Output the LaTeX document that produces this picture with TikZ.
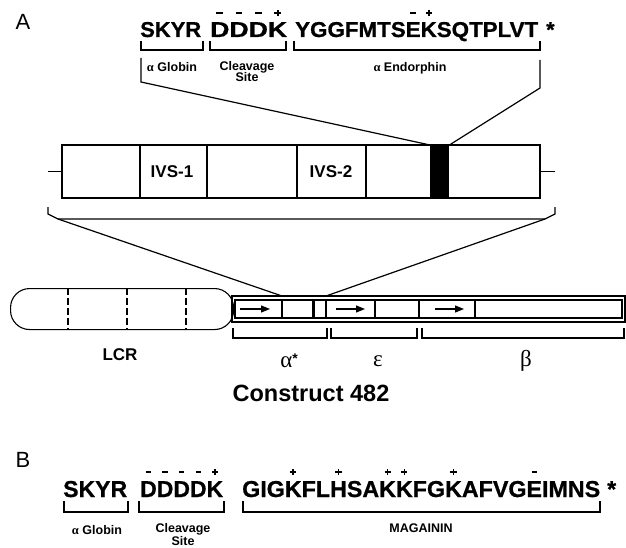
\documentclass[tikz,border=0pt]{standalone}
\usepackage{fontspec}
\setmainfont{Liberation Sans}
\newfontfamily\grk{Liberation Serif}
\newfontfamily\seqfont[FakeBold=0.8]{Liberation Sans Bold}
\usepackage{graphicx}
\usetikzlibrary{arrows.meta}
\newcommand\mi{\rule[2.25pt]{5.5pt}{1.6pt}}
\newcommand\pl{\hbox{\rule[2.2pt]{6pt}{1.6pt}\kern-3.8pt\rule{1.6pt}{6pt}\kern2.2pt}}
\newcommand\ch[2]{\vbox{\offinterlineskip\halign{\hfil##\hfil\cr#1\cr\noalign{\kern6pt}#2\cr}}}
\newcommand\seqw[2]{\resizebox{#1pt}{\height}{#2}}
\tikzset{
  seqA/.style={inner sep=0pt, anchor=base west, font=\fontsize{21.5}{21.5}\selectfont\seqfont},
  seqB/.style={inner sep=0pt, anchor=base west, font=\fontsize{23}{23}\selectfont\seqfont},
  smlab/.style={inner sep=0pt, anchor=base, font=\fontsize{12.5}{12.5}\selectfont\bfseries},
  brk/.style={line width=1.2pt},
  conn/.style={line width=1.2pt},
  bx/.style={line width=1.1pt},
  panel/.style={inner sep=0pt, font=\fontsize{22}{22}\selectfont},
  ivs/.style={inner sep=0pt, font=\fontsize{17}{17}\selectfont\bfseries},
  grklab/.style={inner sep=0pt, font=\fontsize{23}{23}\selectfont\grk},
  arr/.style={line width=1.2pt, -{Triangle[length=9pt,width=7pt]}}
}
\begin{document}
\begin{tikzpicture}[x=1pt,y=-1pt]
\useasboundingbox (0,0) rectangle (626,548);
% ---------- Panel A ----------
\node[panel] (A) at (23,22) {A};
\node[seqA] (s1) at (140,37) {\seqw{61}{SKYR}};
\node[seqA] (s2) at (210,37) {\seqw{77}{\ch\mi D\ch\mi D\ch\mi D\ch\pl K}};
\node[seqA] (s3) at (295,37) {\seqw{243}{YGGFMTS\ch\mi E\ch\pl KSQTPLVT}};
\node[seqA] (ast1) at (546,37) {*};
\draw[brk] (141,41) |- (203,50) -- (203,41);
\draw[brk] (210,41) |- (286,50) -- (286,41);
\draw[brk] (294,41) |- (540,50) -- (540,41);
\node[smlab] (glA) at (172,72) {{\grk α} Globin};
\node[smlab] (clA) at (247,71) {Cleavage};
\node[smlab] (siA) at (247,82) {Site};
\node[smlab] (enA) at (410,72) {{\grk α} Endorphin};
% gene
\draw[bx] (62,145) rectangle (540,198);
\foreach \x in {140,207,297,366} \draw[bx] (\x,145) -- (\x,198);
\node[fill=black, minimum width=19pt, minimum height=53pt, inner sep=0pt, anchor=north west] (bar) at (430,145) {};
\node[ivs] (ivs1) at (172,171.5) {IVS-1};
\node[ivs] (ivs2) at (331,171.5) {IVS-2};
\draw[bx] (48,171.5) -- (62,171.5);
\draw[bx] (540,171.5) -- (555,171.5);
\coordinate (tl) at (141,58);
\coordinate (tlb) at (141,82);
\coordinate (tr) at (540,60);
\coordinate (trb) at (540,88);
\draw[conn] (tl) -- (tlb) -- (bar.north west);
\draw[conn] (tr) -- (trb) -- (bar.north east);
% brace
\coordinate (bl) at (58,219);
\coordinate (br) at (545,219);
\draw[brk] (48,207) -- (48,214) -- (bl) -- (br) -- (555,214) -- (555,207);
% LCR
\node[draw, bx, rounded corners=19pt, minimum width=223pt, minimum height=41pt, inner sep=0pt, anchor=north west] (lcr) at (10,288) {};
\foreach \x in {68,127,186} \draw[bx, dash pattern=on 7pt off 3pt] (\x,288) -- (\x,329);
% construct
\draw[bx] (232,296) rectangle (625,322);
\draw[bx] (235,300) rectangle (622,318);
\foreach \x in {282,326,375,419,475} \draw[bx] (\x,300) -- (\x,318);
\draw[line width=3pt] (313.5,300) -- (313.5,318);
\coordinate (a1s) at (240,309); \coordinate (a1e) at (270,309);
\coordinate (a2s) at (336,309); \coordinate (a2e) at (365,309);
\coordinate (a3s) at (435,309); \coordinate (a3e) at (464,309);
\draw[arr] (a1s) -- (a1e);
\draw[arr] (a2s) -- (a2e);
\draw[arr] (a3s) -- (a3e);
\coordinate (c1) at (282,296);
\coordinate (c2) at (326,296);
\draw[conn] (bl) -- (c1);
\draw[conn] (br) -- (c2);
\draw[brk] (233,328) |- (327,338) -- (327,328);
\draw[brk] (331,328) |- (417,338) -- (417,328);
\draw[brk] (422,328) |- (624,338) -- (624,328);
\node[inner sep=0pt, font=\fontsize{17}{17}\selectfont\bfseries] (lcrl) at (120,355) {LCR};
\node[grklab] (al) at (289,361) {α\raisebox{4pt}{\fontsize{14}{14}\selectfont\rmfamily\bfseries *}};
\node[grklab] (ep) at (378,361) {ε};
\node[grklab] (be) at (526,361) {β};
\node[inner sep=0pt, font=\fontsize{23.5}{23.5}\selectfont\bfseries] (con) at (311,393) {Construct 482};
% ---------- Panel B ----------
\node[panel] (B) at (23,460) {B};
\node[seqB] (b1) at (63,497) {\seqw{64}{SKYR}};
\node[seqB] (b2) at (140,497) {\seqw{83}{\ch\mi D\ch\mi D\ch\mi D\ch\mi D\ch\pl K}};
\node[seqB] (b3) at (242,497) {\seqw{358}{GIG\ch\pl KFL\ch\pl HSA\ch\pl K\ch\pl KFG\ch\pl KAFVG\ch\mi EIMNS}};
\node[seqB] (ast2) at (607,497) {*};
\draw[brk] (64,501) |- (128,512) -- (128,501);
\draw[brk] (139,501) |- (224,512) -- (224,501);
\draw[brk] (243,501) |- (600,512) -- (600,501);
\node[smlab] (glB) at (97,534) {{\grk α} Globin};
\node[smlab] (clB) at (183,532) {Cleavage};
\node[smlab] (siB) at (183,545) {Site};
\node[smlab] (mgB) at (421,532) {MAGAININ};
\end{tikzpicture}
\end{document}
